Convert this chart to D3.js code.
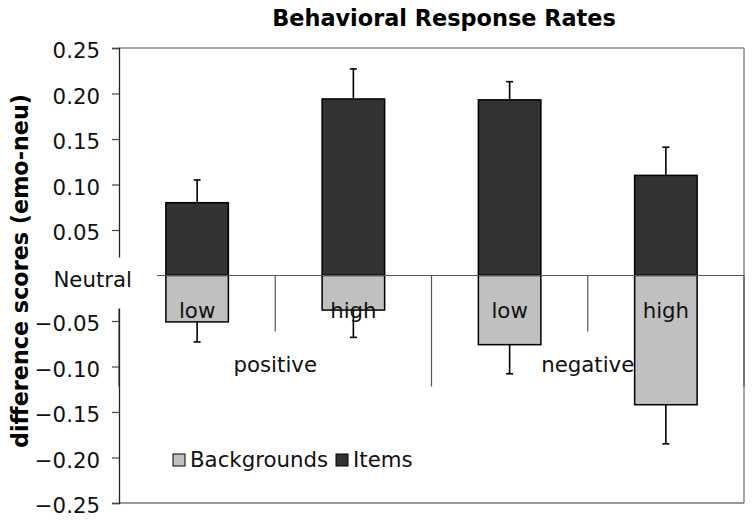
<!DOCTYPE html>
<html>
<head>
<meta charset="utf-8">
<script src="https://cdn.jsdelivr.net/npm/d3@7"></script>
<style>
  html, body { margin: 0; padding: 0; background: #fff; }
  svg { display: block; font-family: "DejaVu Sans", Verdana, sans-serif; }
</style>
</head>
<body>
<svg id="chart" width="754" height="521"></svg>
<script>
// ---- data ----
const subCategories = ["low", "high", "low", "high"];
const groups = ["positive", "negative"];
const items = [0.080, 0.194, 0.193, 0.110];
const itemsErr = [0.025, 0.033, 0.020, 0.031];
const backgrounds = [-0.051, -0.038, -0.076, -0.142];
const backgroundsErr = [0.022, 0.030, 0.032, 0.043];
const yTicks = [0.25, 0.20, 0.15, 0.10, 0.05, 0, -0.05, -0.10, -0.15, -0.20, -0.25];
const seriesNames = ["Backgrounds", "Items"];
const seriesColors = ["#c0c0c0", "#333333"];

// ---- layout ----
const svg = d3.select("#chart");
const L = 119, R = 744, T = 48, B = 503;
const FS = 21.3;
const y = d3.scaleLinear().domain([-0.25, 0.25]).range([B, T]);
const x = d3.scaleBand().domain(d3.range(subCategories.length))
  .range([L, R]).paddingInner(0.6).paddingOuter(0.3);
const step = x.step();
const y0 = y(0);

// title
svg.append("text").attr("x", 444).attr("y", 26).attr("text-anchor", "middle")
  .attr("font-size", 22.4).attr("font-weight", "bold").text("Behavioral Response Rates");

// y label
svg.append("text").attr("transform", `translate(27.5,271) rotate(-90)`)
  .attr("text-anchor", "middle").attr("font-size", 22.3).attr("font-weight", "bold")
  .text("difference scores (emo-neu)");

// plot frame (gray)
const frame = svg.append("g").attr("stroke", "#8a8a8a").attr("stroke-width", 1.5).attr("fill", "none");
frame.append("line").attr("x1", L).attr("x2", R).attr("y1", T).attr("y2", T);
frame.append("line").attr("x1", R).attr("x2", R).attr("y1", T).attr("y2", B);
frame.append("line").attr("x1", L).attr("x2", R).attr("y1", B).attr("y2", B).attr("stroke", "#777");

// bars
const idx = d3.range(subCategories.length);
const bars = svg.append("g").attr("stroke", "#000").attr("stroke-width", 1.5);
bars.selectAll("rect.items").data(idx).join("rect").attr("class", "items")
  .attr("x", i => x(i)).attr("width", x.bandwidth())
  .attr("y", i => y(items[i])).attr("height", i => y0 - y(items[i]))
  .attr("fill", seriesColors[1]);
bars.selectAll("rect.bg").data(idx).join("rect").attr("class", "bg")
  .attr("x", i => x(i)).attr("width", x.bandwidth())
  .attr("y", y0).attr("height", i => y(backgrounds[i]) - y0)
  .attr("fill", seriesColors[0]);

// error bars
const eb = svg.append("g").attr("stroke", "#000").attr("stroke-width", 1.6);
const cx = i => x(i) + x.bandwidth() / 2;
idx.forEach(i => {
  eb.append("line").attr("x1", cx(i)).attr("x2", cx(i))
    .attr("y1", y(items[i])).attr("y2", y(items[i] + itemsErr[i]));
  eb.append("line").attr("x1", cx(i) - 3.5).attr("x2", cx(i) + 3.5)
    .attr("y1", y(items[i] + itemsErr[i])).attr("y2", y(items[i] + itemsErr[i]));
  eb.append("line").attr("x1", cx(i)).attr("x2", cx(i))
    .attr("y1", y(backgrounds[i])).attr("y2", y(backgrounds[i] - backgroundsErr[i]));
  eb.append("line").attr("x1", cx(i) - 3.5).attr("x2", cx(i) + 3.5)
    .attr("y1", y(backgrounds[i] - backgroundsErr[i])).attr("y2", y(backgrounds[i] - backgroundsErr[i]));
});

// category axis at zero + separators
const cat = svg.append("g").attr("stroke", "#555").attr("stroke-width", 1.2);
cat.append("line").attr("x1", L).attr("x2", R).attr("y1", y0).attr("y2", y0);
d3.range(subCategories.length + 1).forEach(k => {
  const xx = L + k * step;
  const long = (k % 2 === 0);
  cat.append("line").attr("x1", xx).attr("x2", xx)
    .attr("y1", y0).attr("y2", y0 + (long ? 111 : 56));
});

// y axis
const yAxis = d3.axisLeft(y).tickValues(yTicks).tickSize(7).tickPadding(12)
  .tickFormat(d => d === 0 ? "" : d3.format(".2f")(d));
const ya = svg.append("g").attr("transform", `translate(${L},0)`).call(yAxis);
ya.select(".domain").attr("stroke", "#222").attr("stroke-width", 1.3);
ya.selectAll(".tick line").attr("stroke", "#444").attr("stroke-width", 1.2);
ya.selectAll(".tick text").attr("font-size", FS).attr("font-family", "DejaVu Sans")
  .attr("fill", "#111").attr("dy", "0.45em");

// Neutral label box
svg.append("rect").attr("x", 40).attr("y", y0 - 18).attr("width", 157 - 40).attr("height", 51).attr("fill", "#fff");
svg.append("text").attr("x", 132).attr("y", y0 + 11).attr("text-anchor", "end")
  .attr("font-size", FS).attr("fill", "#111").text("Neutral");

// sub-category labels
svg.append("g").selectAll("text").data(idx).join("text")
  .attr("x", i => cx(i)).attr("y", y0 + 42).attr("text-anchor", "middle")
  .attr("font-size", FS).attr("fill", "#111").text(i => subCategories[i]);

// group labels
svg.append("g").selectAll("text").data(groups).join("text")
  .attr("x", (g, j) => L + (2 * j + 1) * step).attr("y", y0 + 96).attr("text-anchor", "middle")
  .attr("font-size", FS).attr("fill", "#111").text(g => g);

// legend
const leg = svg.append("g");
const legX = [173, 336];
seriesNames.forEach((n, j) => {
  leg.append("rect").attr("x", legX[j]).attr("y", 454).attr("width", 12).attr("height", 12)
    .attr("fill", seriesColors[j]).attr("stroke", "#000").attr("stroke-width", 1);
  leg.append("text").attr("x", legX[j] + 17).attr("y", 467).attr("font-size", FS)
    .attr("fill", "#111").text(n);
});
</script>
</body>
</html>
